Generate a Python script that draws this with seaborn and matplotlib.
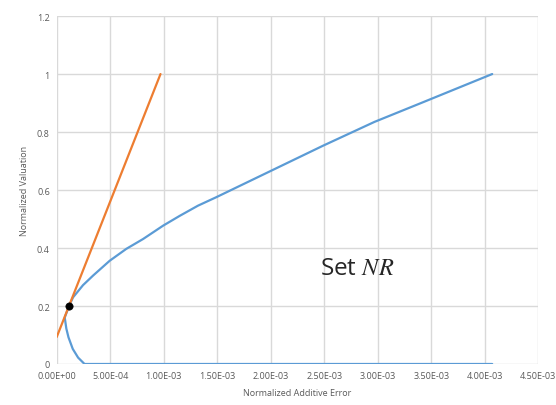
import matplotlib
matplotlib.use("Agg")
import matplotlib.pyplot as plt
import seaborn as sns

# blue boundary of the set NR (normalized additive error vs normalized valuation)
nr_x = [4.07e-3, 2.0e-3, 0.26e-3, 0.20e-3, 0.15e-3, 0.11e-3, 0.09e-3, 0.075e-3,
        0.115e-3, 0.153e-3, 0.246e-3, 0.34e-3, 0.495e-3, 0.65e-3, 0.807e-3,
        0.994e-3, 1.15e-3, 1.32e-3, 1.49e-3, 1.99e-3, 2.49e-3, 2.97e-3,
        3.405e-3, 4.07e-3]
nr_y = [0.0, 0.0, 0.0, 0.022, 0.052, 0.092, 0.122, 0.16,
        0.2, 0.23, 0.272, 0.305, 0.356, 0.397, 0.431,
        0.477, 0.511, 0.546, 0.575, 0.664, 0.753, 0.835,
        0.9, 1.0]

# orange tangent line
line_x = [0.0, 0.97e-3]
line_y = [0.093, 1.0]

# black point
pt_x = [0.115e-3]
pt_y = [0.2]

x_ticks = [i * 0.5e-3 for i in range(10)]
y_ticks = [0, 0.2, 0.4, 0.6, 0.8, 1.0, 1.2]

sns.set_style("white")
plt.rcParams['font.family'] = ['Open Sans', 'DejaVu Sans']
plt.rcParams['mathtext.fontset'] = 'stix'

fig = plt.figure(figsize=(5.56, 4.06), dpi=100)
ax = fig.add_axes([0.102, 0.101, 0.866, 0.857])

sns.lineplot(x=nr_x, y=nr_y, sort=False, estimator=None, color='#5B9BD5', linewidth=1.6, ax=ax, zorder=3)
sns.lineplot(x=line_x, y=line_y, sort=False, estimator=None, color='#ED7D31', linewidth=1.6, ax=ax, zorder=4)
sns.scatterplot(x=pt_x, y=pt_y, color='black', s=28, edgecolor='black', ax=ax, zorder=5)

ax.set_xlim(0, 4.5e-3)
ax.set_ylim(0, 1.2)
ax.set_xticks(x_ticks)
ax.set_xticklabels(['%.2E' % v for v in x_ticks])
ax.set_yticks(y_ticks)
ax.set_yticklabels(['0', '0.2', '0.4', '0.6', '0.8', '1', '1.2'])
ax.grid(True, color='#d9d9d9', linewidth=1)
for s in ax.spines.values():
    s.set_visible(False)
ax.tick_params(axis='both', labelsize=6.5, colors='#595959', length=0, pad=5)

ax.set_xlabel('Normalized Additive Error', fontsize=6.5, color='#595959', labelpad=6)
ax.set_ylabel('Normalized Valuation', fontsize=6.5, color='#595959', labelpad=6)

ax.text(2.805e-3, 0.331, 'Set $NR$', fontsize=17.5, color='#262626', ha='center', va='center')

fig.savefig('out.png', dpi=100)
